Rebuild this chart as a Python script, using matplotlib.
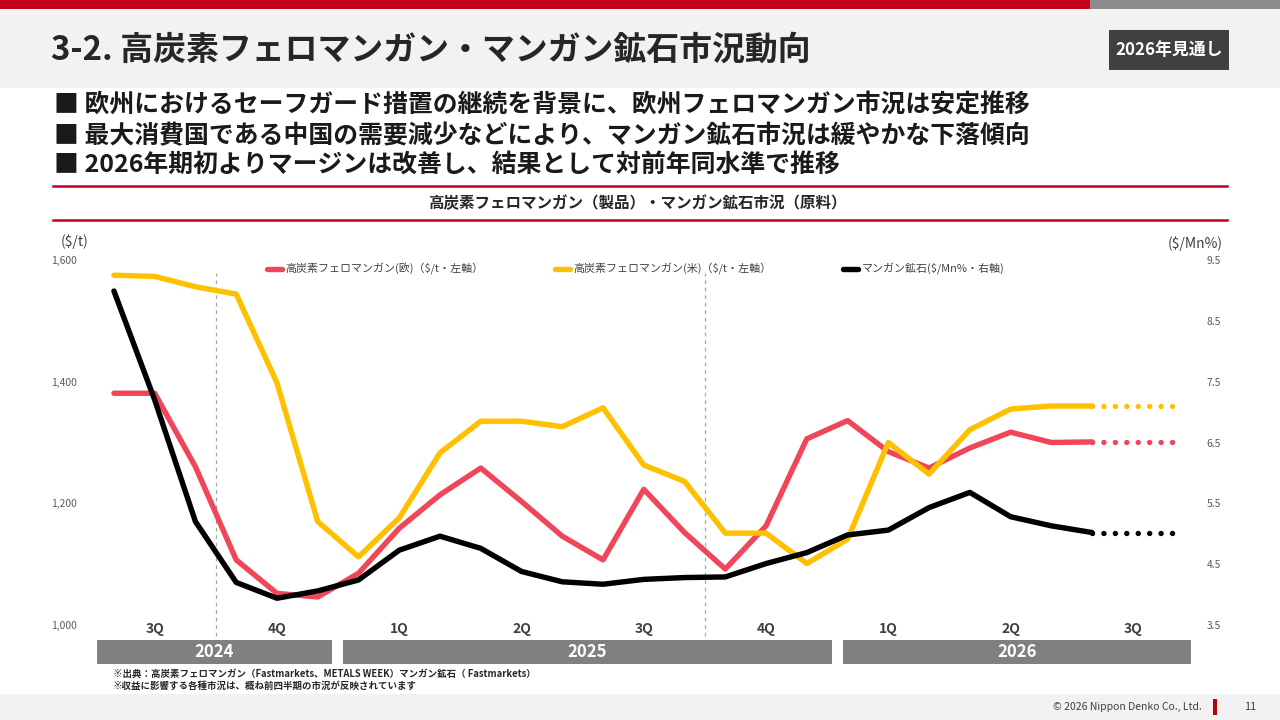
import numpy as np
import matplotlib
matplotlib.use('Agg')
import matplotlib.pyplot as plt
from matplotlib.patches import Rectangle
from matplotlib.lines import Line2D
import matplotlib.transforms as mtransforms

plt.rcParams['font.family'] = ['Noto Sans CJK JP', 'DejaVu Sans']

# 月次データ (2024年7月 ～ 2026年7月)
fem_eu = [1381, 1381, 1260, 1107, 1052, 1046, 1085, 1159, 1214, 1258, 1203, 1146,
          1107, 1223, 1152, 1092, 1163, 1306, 1336, 1285, 1258, 1291, 1317, 1300, 1301]
fem_us = [1575, 1573, 1556, 1544, 1398, 1170, 1112, 1176, 1283, 1335, 1335, 1326,
          1357, 1263, 1236, 1151, 1151, 1101, 1141, 1300, 1248, 1321, 1355, 1360, 1360]
mn_ore = [8.99, 7.20, 5.20, 4.20, 3.94, 4.06, 4.24, 4.73, 4.96, 4.76, 4.38, 4.21,
          4.17, 4.25, 4.28, 4.29, 4.51, 4.69, 4.98, 5.06, 5.43, 5.68, 5.28, 5.13, 5.02]
# 見通し (2026年7月 ～ 9月)
fem_eu_fc = [1301, 1301, 1301]
fem_us_fc = [1360, 1360, 1360]
mn_ore_fc = [5.02, 5.02, 5.02]

quarters = ['3Q', '4Q', '1Q', '2Q', '3Q', '4Q', '1Q', '2Q', '3Q']
years = ['2024', '2025', '2026']
left_ticks = [1000, 1200, 1400, 1600]
right_ticks = [3.5, 4.5, 5.5, 6.5, 7.5, 8.5, 9.5]

labels = ['高炭素フェロマンガン(欧)（$/t・左軸）',
          '高炭素フェロマンガン(米)（$/t・左軸）',
          'マンガン鉱石($/Mn%・右軸)']

RED = '#F0465A'
YEL = '#FFC000'
BLK = '#000000'
W, H = 1280, 720


def fx(px):
    return px / W


def fy(py):
    return 1 - py / H


def frect(fig, x0, y0, x1, y1, color):
    fig.add_artist(Rectangle((fx(x0), fy(y1)), fx(x1) - fx(x0), (y1 - y0) / H,
                             transform=fig.transFigure, color=color, lw=0, zorder=0))


fig = plt.figure(figsize=(12.8, 7.2), dpi=100)
fig.patch.set_facecolor('white')

# ヘッダー
frect(fig, 0, 0, 1090, 9, '#C4001A')
frect(fig, 1090, 0, 1280, 9, '#8C8C8C')
frect(fig, 0, 9, 1280, 88, '#F2F2F2')
frect(fig, 1109, 30, 1229, 70, '#404040')
fig.text(fx(51), fy(50), '3-2. 高炭素フェロマンガン・マンガン鉱石市況動向',
         fontsize=23.7, fontweight='bold', color='#262626', va='center')
fig.text(fx(1169), fy(50), '2026年見通し', fontsize=12.2, fontweight='bold',
         color='white', ha='center', va='center')

bullets = ['欧州におけるセーフガード措置の継続を背景に、欧州フェロマンガン市況は安定推移',
           '最大消費国である中国の需要減少などにより、マンガン鉱石市況は緩やかな下落傾向',
           '2026年期初よりマージンは改善し、結果として対前年同水準で推移']
for i, b in enumerate(bullets):
    fig.text(fx(54), fy(106 + 30 * i), '■ ' + b, fontsize=17.9, fontweight='bold',
             color='#1A1A1A', va='center')

for py in (186, 220):
    fig.add_artist(Line2D([fx(53), fx(1227)], [fy(py), fy(py)], transform=fig.transFigure,
                          color='#C00020', lw=1.8))
fig.text(fx(637), fy(203), '高炭素フェロマンガン（製品）・マンガン鉱石市況（原料）',
         fontsize=11.2, fontweight='bold', color='#262626', ha='center', va='center')

# フッター
frect(fig, 0, 694, 1280, 720, '#F2F2F2')
frect(fig, 1213, 699, 1217, 715, '#C00000')
fig.text(fx(1202), fy(707), '© 2026 Nippon Denko Co., Ltd.', fontsize=7.5,
         color='#404040', ha='right', va='center')
fig.text(fx(1250), fy(707), '11', fontsize=8, color='#404040', ha='center', va='center')
fig.text(fx(113), fy(674), '※出典：高炭素フェロマンガン（Fastmarkets、METALS WEEK）マンガン鉱石（ Fastmarkets）',
         fontsize=6.8, fontweight='bold', color='#262626', va='center')
fig.text(fx(113), fy(686), '※収益に影響する各種市況は、概ね前四半期の市況が反映されています',
         fontsize=6.8, fontweight='bold', color='#262626', va='center')

# グラフ
ax = fig.add_axes([fx(85), fy(625), fx(1194) - fx(85), (625 - 260) / H])
ax2 = ax.twinx()
ax.set_facecolor('none')

n = len(fem_eu)
x = np.arange(n)
xf = np.arange(n - 1, n - 1 + len(fem_eu_fc))
line_kw = dict(lw=3.9, solid_capstyle='round', solid_joinstyle='round')
dot_kw = dict(lw=3.9, linestyle=(0, (0.01, 2.1)), dash_capstyle='round')

l1, = ax.plot(x, fem_eu, color=RED, **line_kw)
ax.plot(xf, fem_eu_fc, color=RED, **dot_kw)
l2, = ax.plot(x, fem_us, color=YEL, **line_kw)
ax.plot(xf, fem_us_fc, color=YEL, **dot_kw)
l3, = ax2.plot(x, mn_ore, color=BLK, **line_kw)
ax2.plot(xf, mn_ore_fc, color=BLK, **dot_kw)

ax.set_xlim(-0.71, 26.5)
ax.set_ylim(1000, 1600)
ax2.set_ylim(3.5, 9.5)
ax.set_yticks(left_ticks, [f'{v:,}' for v in left_ticks])
ax2.set_yticks(right_ticks, [f'{v:.1f}' for v in right_ticks])
ax.set_xticks([])
for a in (ax, ax2):
    for s in a.spines.values():
        s.set_visible(False)
    a.tick_params(length=0, labelsize=7.4, labelcolor='#595959')
ax.tick_params(axis='y', pad=6)
ax2.tick_params(axis='y', pad=9)

trans = mtransforms.blended_transform_factory(ax.transData, ax.transAxes)
for xv in (2.5, 14.5):
    ax.plot([xv, xv], [-0.03, 0.965], transform=trans, color='#A6A6A6', lw=0.9,
            linestyle=(0, (3, 3)), clip_on=False, zorder=0)

for i, q in enumerate(quarters):
    ax.text(1 + 3 * i, -0.012, q, transform=trans, ha='center', va='center',
            fontsize=10, fontweight='bold', color='#404040')

year_spans = [(-0.42, 5.35), (5.62, 17.61), (17.88, 26.43)]
for (x0, x1), yl in zip(year_spans, years):
    ax.add_patch(Rectangle((x0, -0.1068), x1 - x0, 0.0658, transform=trans,
                           color='#808080', lw=0, clip_on=False))
    ax.text((x0 + x1) / 2, -0.074, yl, transform=trans, ha='center', va='center',
            fontsize=12, fontweight='bold', color='white')

fig.text(fx(75), fy(242), '($/t)', fontsize=10, color='#404040', ha='center', va='center')
fig.text(fx(1195), fy(244), '($/Mn%)', fontsize=10, color='#404040', ha='center', va='center')

leg = ax2.legend([l1, l2, l3], labels, loc='center left', bbox_to_anchor=(0.164, 0.975),
                 ncol=3, frameon=False, fontsize=7.9, handlelength=1.4, handletextpad=0.3,
                 columnspacing=6.5, borderpad=0, borderaxespad=0)
for t in leg.get_texts():
    t.set_color('#404040')

fig.savefig('out.png', dpi=100)
